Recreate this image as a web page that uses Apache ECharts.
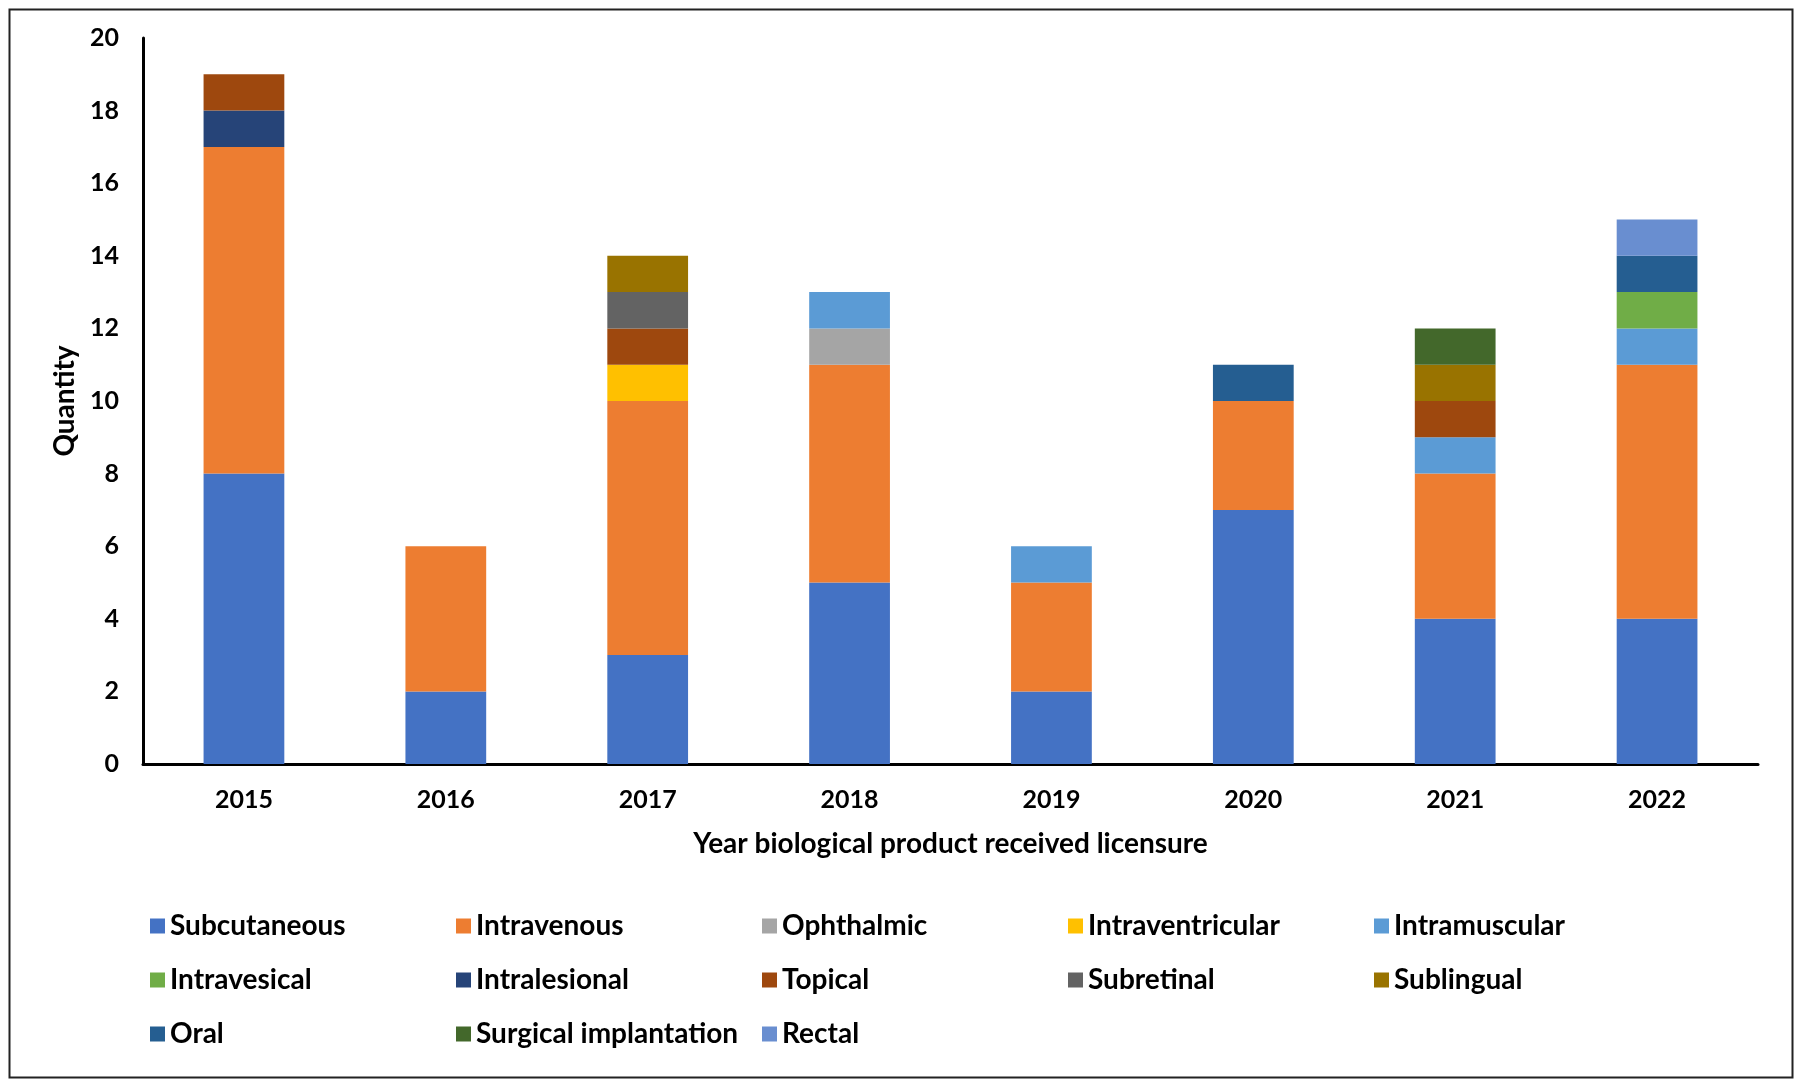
<!DOCTYPE html>
<html>
<head>
<meta charset="utf-8">
<script src="https://cdn.jsdelivr.net/npm/echarts@6/dist/echarts.min.js"></script>
<style>
html,body{margin:0;padding:0;background:#fff;}
#chart{width:1797px;height:1082px;}
</style>
</head>
<body>
<div id="chart"></div>
<script>
const years = ['2015','2016','2017','2018','2019','2020','2021','2022'];
const seriesNames = ['Subcutaneous','Intravenous','Ophthalmic','Intraventricular','Intramuscular','Intravesical','Intralesional','Topical','Subretinal','Sublingual','Oral','Surgical implantation','Rectal'];
const subcutaneous     = [8, 2, 3, 5, 2, 7, 4, 4];
const intravenous      = [9, 4, 7, 6, 3, 3, 4, 7];
const ophthalmic       = [0, 0, 0, 1, 0, 0, 0, 0];
const intraventricular = [0, 0, 1, 0, 0, 0, 0, 0];
const intramuscular    = [0, 0, 0, 1, 1, 0, 1, 1];
const intravesical     = [0, 0, 0, 0, 0, 0, 0, 1];
const intralesional    = [1, 0, 0, 0, 0, 0, 0, 0];
const topical          = [1, 0, 1, 0, 0, 0, 1, 0];
const subretinal       = [0, 0, 1, 0, 0, 0, 0, 0];
const sublingual       = [0, 0, 1, 0, 0, 0, 1, 0];
const oral             = [0, 0, 0, 0, 0, 1, 0, 1];
const surgical         = [0, 0, 0, 0, 0, 0, 1, 0];
const rectal           = [0, 0, 0, 0, 0, 0, 0, 1];
const yTicks = [0, 2, 4, 6, 8, 10, 12, 14, 16, 18, 20];

const seriesData = [subcutaneous, intravenous, ophthalmic, intraventricular, intramuscular, intravesical, intralesional, topical, subretinal, sublingual, oral, surgical, rectal];
const colors = ['#4472C4','#ED7D31','#A5A5A5','#FFC000','#5B9BD5','#70AD47','#264478','#9E480E','#636363','#997300','#255E91','#43682B','#698ED0'];

const FONT = 'Lato';
const chart = echarts.init(document.getElementById('chart'), null, {renderer: 'canvas'});
chart.setOption({
  animation: false,
  color: colors,
  textStyle: {fontFamily: FONT},
  graphic: [{
    type: 'rect', left: 7, top: 7, z: -1,
    shape: {width: 1783, height: 1068},
    style: {fill: 'none', stroke: '#222', lineWidth: 2}
  }],
  grid: {left: 143, right: 39, top: 38, bottom: 318, containLabel: false},
  legend: {
    left: 145, top: 899, width: 1580,
    itemWidth: 15, itemHeight: 15, itemGap: 10,
    icon: 'rect',
    data: seriesNames,
    textStyle: {fontFamily: FONT, fontWeight: 'bold', fontSize: 28, color: '#000', width: 276, lineHeight: 44, height: 44, overflow: 'none'}
  },
  xAxis: {
    type: 'category', data: years,
    name: 'Year biological product received licensure',
    nameLocation: 'middle', nameGap: 66,
    nameTextStyle: {fontFamily: FONT, fontWeight: 'bold', fontSize: 28, color: '#000'},
    axisLine: {lineStyle: {color: '#000', width: 3}},
    axisTick: {show: false},
    axisLabel: {fontFamily: FONT, fontWeight: 'bold', fontSize: 25, color: '#000', margin: 23}
  },
  yAxis: {
    type: 'value', min: 0, max: 20, interval: 2,
    name: 'Quantity', nameLocation: 'middle', nameGap: 64,
    nameTextStyle: {fontFamily: FONT, fontWeight: 'bold', fontSize: 28, color: '#000'},
    axisLine: {show: true, lineStyle: {color: '#000', width: 3}},
    axisTick: {show: false},
    splitLine: {show: false},
    axisLabel: {fontFamily: FONT, fontWeight: 'bold', fontSize: 25, color: '#000', margin: 24,
      formatter: v => yTicks.includes(v) ? String(v) : ''}
  },
  series: seriesNames.map((name, i) => ({
    name: name, type: 'bar', stack: 'total',
    barWidth: '40%',
    data: seriesData[i],
    itemStyle: {color: colors[i]}
  }))
});
</script>
</body>
</html>
